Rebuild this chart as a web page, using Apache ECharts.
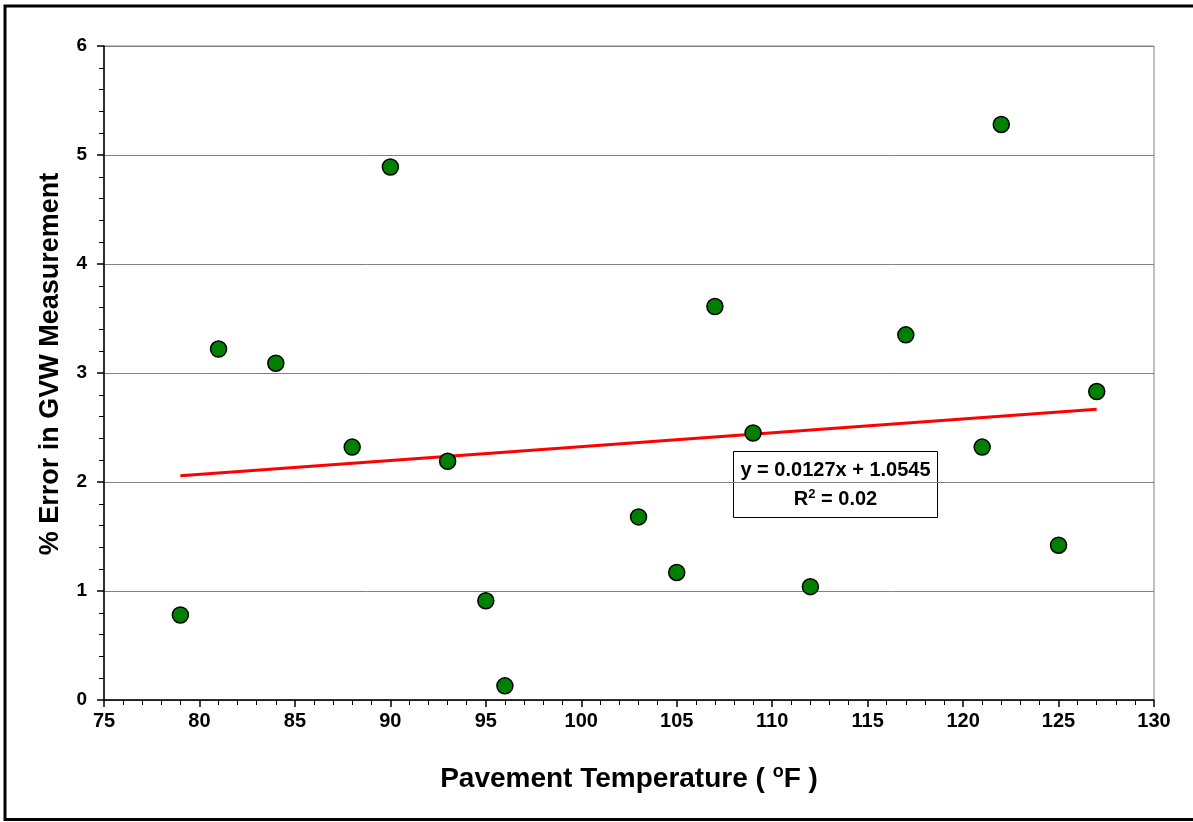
<!DOCTYPE html>
<html>
<head>
<meta charset="utf-8">
<script src="https://cdn.jsdelivr.net/npm/echarts@6/dist/echarts.min.js"></script>
<style>html,body{margin:0;padding:0;background:#fff;}#chart{width:1193px;height:822px;}</style>
</head>
<body>
<div id="chart"></div>
<script>
// Data
const temperatureF = [79, 81, 84, 88, 90, 93, 95, 96, 103, 105, 107, 109, 112, 117, 121, 122, 125, 127];
const errorPct =     [0.78, 3.22, 3.09, 2.32, 4.89, 2.19, 0.91, 0.13, 1.68, 1.17, 3.61, 2.45, 1.04, 3.35, 2.32, 5.28, 1.42, 2.83];
const trendSlope = 0.0127;
const trendIntercept = 1.0545;
const trendR2 = '0.02';
const xTicks = [75, 130, 5];
const yTicks = [0, 6, 1];

const points = temperatureF.map((t, i) => [t, errorPct[i]]);
const xMinData = Math.min(...temperatureF), xMaxData = Math.max(...temperatureF);
const trend = [[xMinData, trendSlope * xMinData + trendIntercept], [xMaxData, trendSlope * xMaxData + trendIntercept]];

const chart = echarts.init(document.getElementById('chart'));
const font = '"Liberation Sans", Arial, sans-serif';
chart.setOption({
  animation: false,
  backgroundColor: '#fff',
  grid: { left: 104, top: 46, right: 39, bottom: 122, show: true, borderColor: '#808080', borderWidth: 1, backgroundColor: 'transparent' },
  xAxis: {
    type: 'value', min: xTicks[0], max: xTicks[1], interval: xTicks[2],
    axisLine: { show: true, lineStyle: { color: '#000', width: 1.5 } },
    axisTick: { show: true, inside: false, length: 7, lineStyle: { color: '#000', width: 1.5 } },
    minorTick: { show: true, splitNumber: 5, length: 5, lineStyle: { color: '#000', width: 1 } },
    splitLine: { show: false },
    axisLabel: { color: '#000', fontFamily: font, fontWeight: 'bold', fontSize: 20, margin: 11 },
    name: 'Pavement Temperature ( {s|o}F )',
    nameLocation: 'middle', nameGap: 63,
    nameTextStyle: { color: '#000', fontFamily: font, fontWeight: 'bold', fontSize: 28,
      rich: { s: { fontFamily: font, fontWeight: 'bold', fontSize: 18, color: '#000', verticalAlign: 'top', padding: [0, 0, 14, 0] } } }
  },
  yAxis: {
    type: 'value', min: yTicks[0], max: yTicks[1], interval: yTicks[2],
    axisLine: { show: true, lineStyle: { color: '#000', width: 1.5 } },
    axisTick: { show: true, inside: false, length: 7, lineStyle: { color: '#000', width: 1.5 } },
    minorTick: { show: true, splitNumber: 5, length: 5, lineStyle: { color: '#000', width: 1 } },
    splitLine: { show: true, lineStyle: { color: '#808080', width: 1 } },
    axisLabel: { color: '#000', fontFamily: font, fontWeight: 'bold', fontSize: 19, margin: 17 },
    name: '% Error in GVW Measurement',
    nameLocation: 'middle', nameGap: 40,
    nameTextStyle: { color: '#000', fontFamily: font, fontWeight: 'bold', fontSize: 27, padding: [0, 0, 0, 18] }
  },
  series: [
    {
      type: 'line', data: trend, showSymbol: false, symbol: 'none',
      lineStyle: { color: '#ff0000', width: 3 }, z: 3, silent: true
    },
    {
      type: 'scatter', data: points, symbol: 'circle', symbolSize: 16,
      itemStyle: { color: '#008000', borderColor: '#000', borderWidth: 1.5, opacity: 1 }, z: 4
    }
  ],
  graphic: [
    { type: 'rect', shape: { x: 5, y: 6, width: 1300, height: 813.5 }, style: { fill: 'none', stroke: '#000', lineWidth: 3 }, silent: true, z: 100 },
    { type: 'group', left: 733, top: 451, z: 50, children: [
      { type: 'rect', shape: { x: 0, y: 0, width: 204, height: 66 }, style: { fill: '#fff', stroke: '#000', lineWidth: 1 } },
      { type: 'text', x: 102, y: 19, style: { text: 'y = ' + trendSlope + 'x + ' + trendIntercept, fill: '#000', font: 'bold 20px ' + font, align: 'center', verticalAlign: 'middle' } },
      { type: 'text', x: 102, y: 48, style: { text: 'R{s|2} = ' + trendR2, fill: '#000', font: 'bold 20px ' + font, align: 'center', verticalAlign: 'middle',
        rich: { s: { font: 'bold 13px ' + font, fill: '#000', verticalAlign: 'top', padding: [0, 0, 10, 0] } } } }
    ] }
  ]
});
</script>
</body>
</html>
